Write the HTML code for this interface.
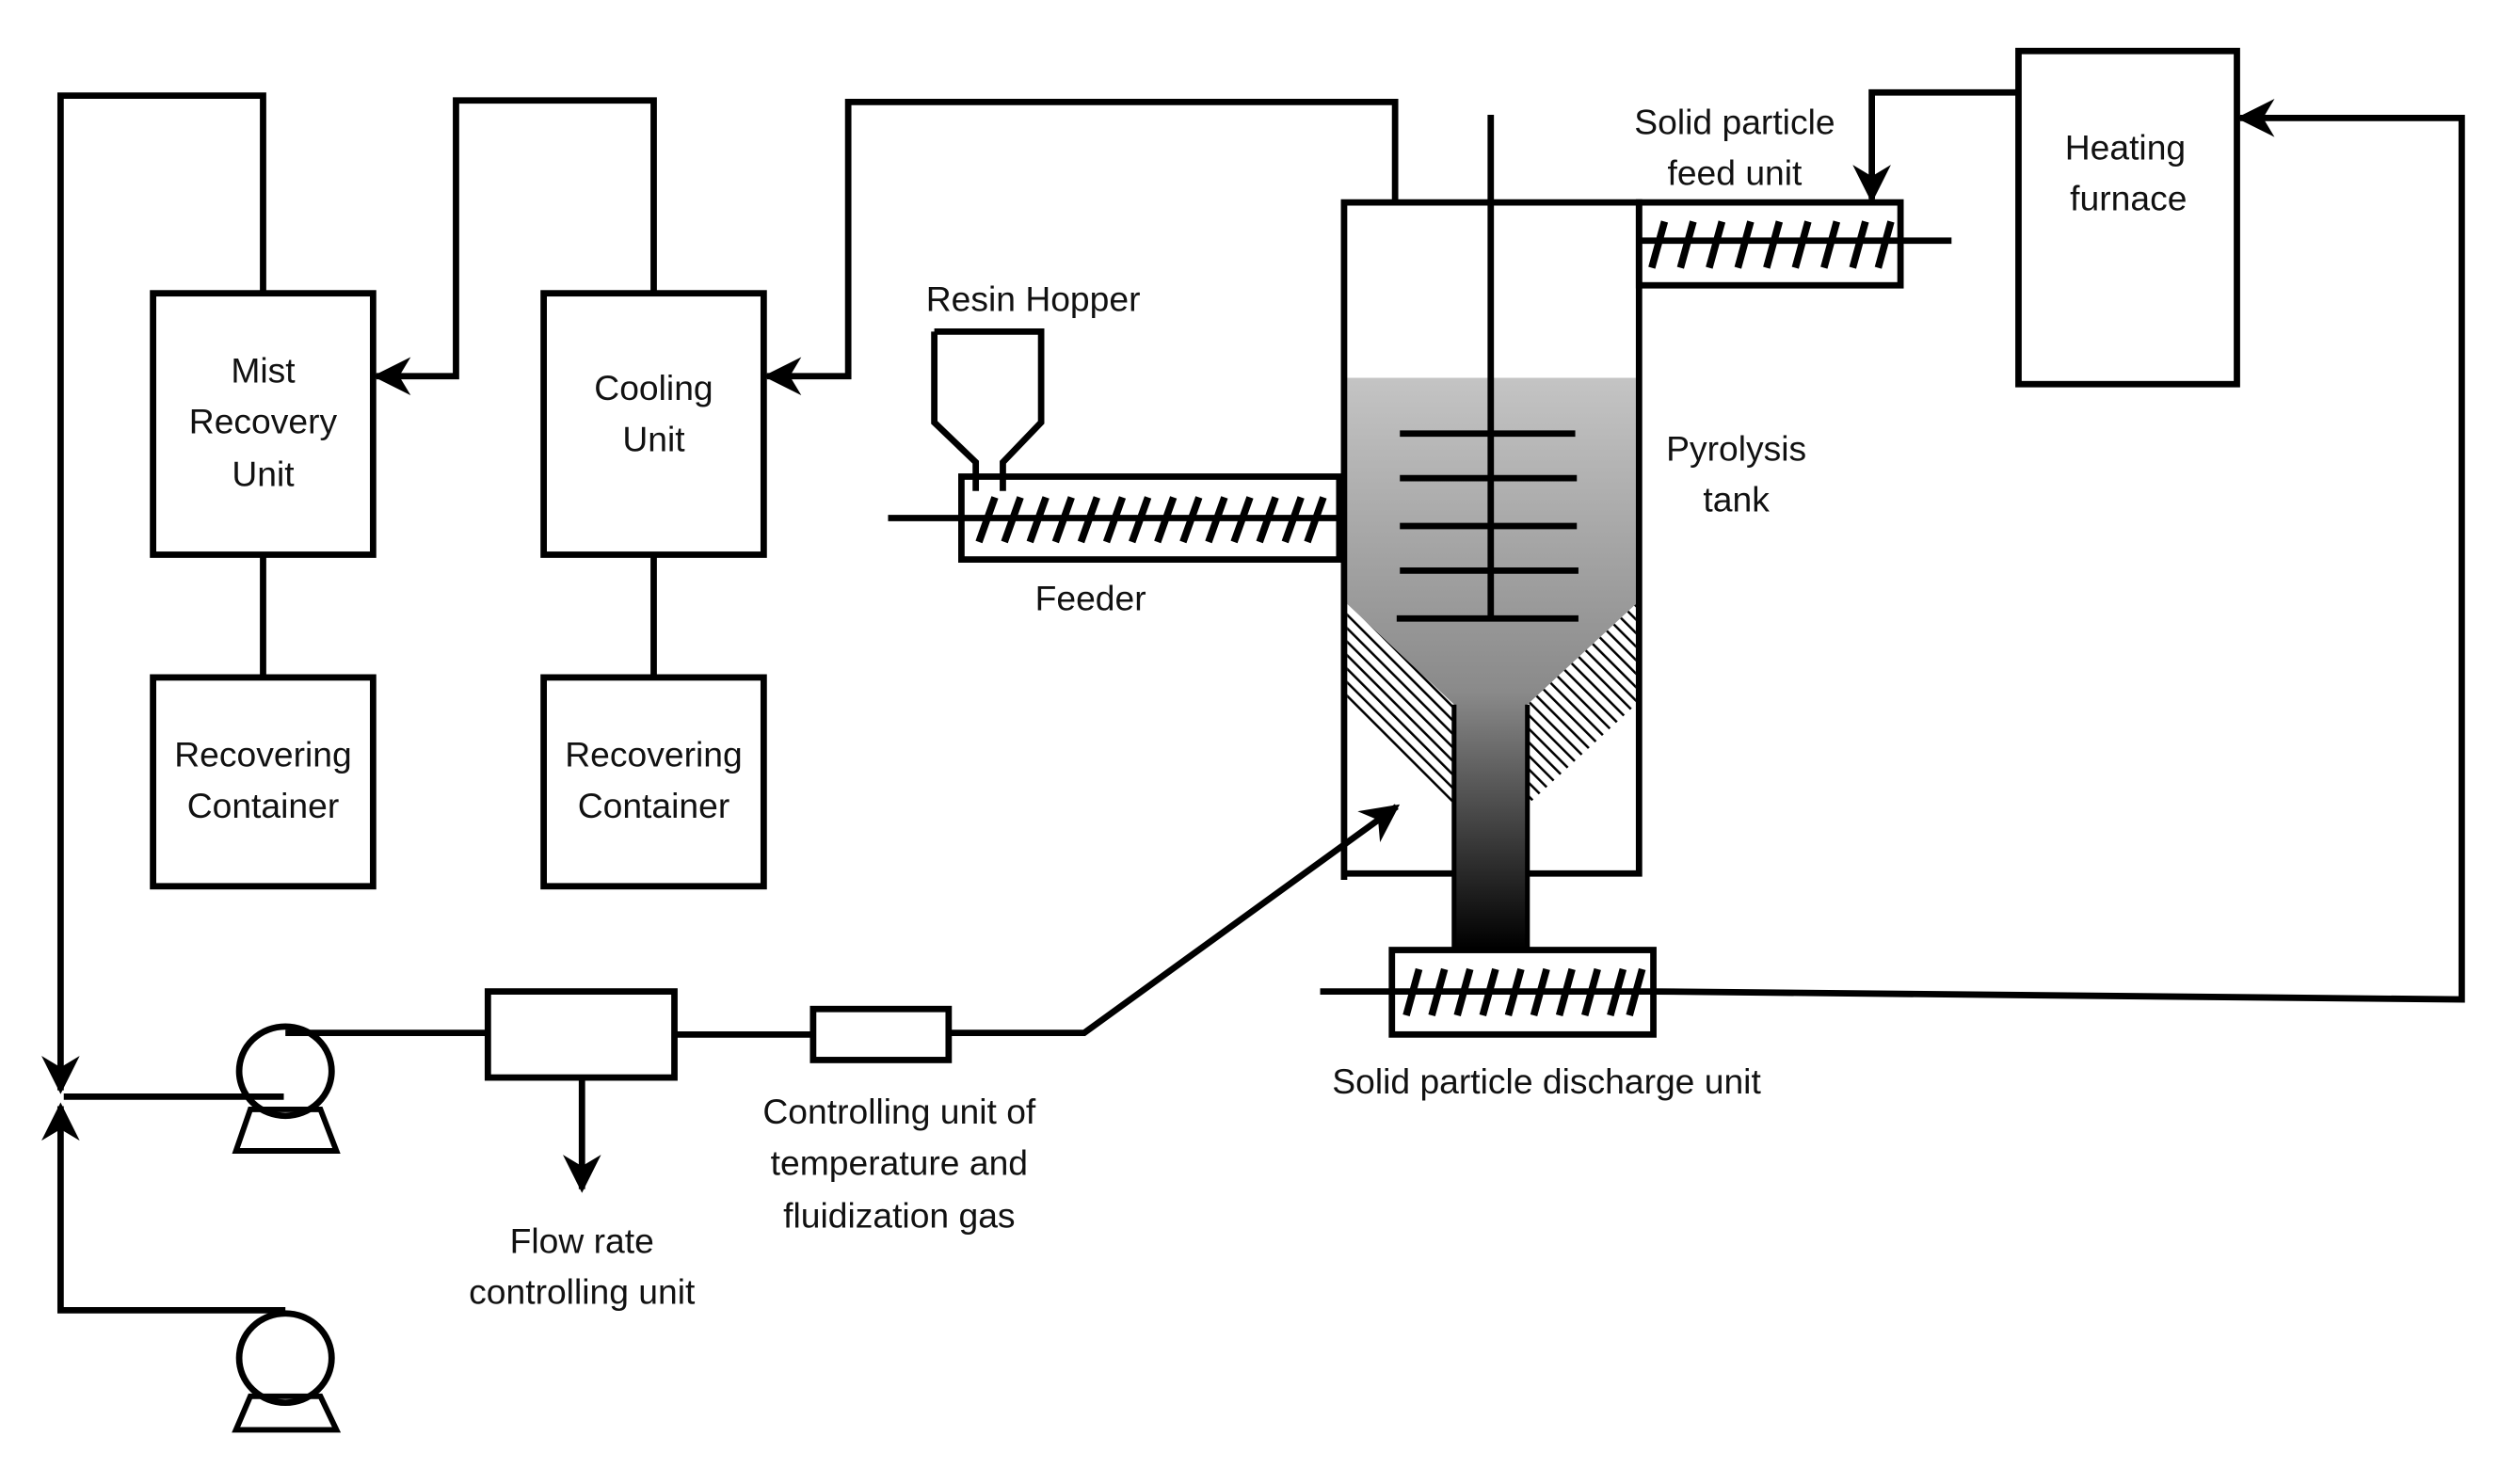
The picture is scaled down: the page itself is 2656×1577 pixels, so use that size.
<!DOCTYPE html>
<html><head><meta charset="utf-8"><style>html,body{margin:0;padding:0;background:#fff}svg{display:block}</style></head>
<body>
<svg width="2656" height="1577" viewBox="0 0 1568 931" xmlns="http://www.w3.org/2000/svg" font-family="Liberation Sans, sans-serif" font-size="22">
<defs>
<linearGradient id="g" x1="0" y1="237" x2="0" y2="595" gradientUnits="userSpaceOnUse">
<stop offset="0" stop-color="#c4c4c4"/><stop offset="0.55" stop-color="#8a8a8a"/><stop offset="1" stop-color="#000"/>
</linearGradient>
<pattern id="h" width="6" height="6" patternUnits="userSpaceOnUse" patternTransform="rotate(-45)">
<rect width="6" height="6" fill="#fff"/><line x1="0" y1="0" x2="0" y2="6" stroke="#000" stroke-width="3"/>
</pattern>
<marker id="a" viewBox="0 0 10 10" refX="9" refY="5" markerWidth="6" markerHeight="6" orient="auto" markerUnits="strokeWidth"><path d="M0,0 L10,5 L0,10 L3,5 z" fill="#000"/></marker>
</defs>
<g fill="none" stroke="#000" stroke-width="4">
<rect x="96" y="184" width="138" height="164"/>
<rect x="341" y="184" width="138" height="164"/>
<rect x="96" y="425" width="138" height="131"/>
<rect x="341" y="425" width="138" height="131"/>
<line x1="165" y1="348" x2="165" y2="425"/>
<line x1="410" y1="348" x2="410" y2="425"/>
<polyline points="165,184 165,60 38,60 38,684" marker-end="url(#a)"/>
<polyline points="410,184 410,63 286,63 286,236 236,236" marker-end="url(#a)"/>
<polyline points="875,127 875,64 532,64 532,236 481,236" marker-end="url(#a)"/>
<polygon points="845,237 1026,237 1026,379 958,442 958,595 912,595 912,442 845,379" fill="url(#g)" stroke="none"/>
<polygon points="845,379 912,442 912,505 845,442" fill="url(#h)" stroke="none"/>
<polygon points="1026,379 958,442 958,505 1026,442" fill="url(#h)" stroke="none"/>
<line x1="912" y1="442" x2="912" y2="595" stroke-width="3"/>
<line x1="958" y1="442" x2="958" y2="595" stroke-width="3"/>
<polyline points="843,552 843,127 1028,127 1028,548 958,548"/>
<line x1="843" y1="548" x2="912" y2="548"/>
<line x1="935" y1="72" x2="935" y2="388"/>
<line x1="878" y1="272" x2="988" y2="272"/>
<line x1="878" y1="300" x2="989" y2="300"/>
<line x1="878" y1="330" x2="989" y2="330"/>
<line x1="878" y1="358" x2="990" y2="358"/>
<line x1="876" y1="388" x2="990" y2="388"/>
<rect x="1028" y="127" width="164" height="52"/>
<line x1="1028" y1="151" x2="1224" y2="151"/>
<polyline points="1266,58 1174,58 1174,125" marker-end="url(#a)"/>
<rect x="1266" y="32" width="137" height="209"/>
<polyline points="1038,622 1544,627 1544,74 1405,74" marker-end="url(#a)"/>
<rect x="873" y="596" width="164" height="53"/>
<line x1="828" y1="622" x2="1037" y2="622"/>
<polyline points="586,208 653,208 653,265 629,290 629,308"/>
<polyline points="586,208 586,265 612,290 612,308"/>
<rect x="603" y="299" width="237" height="52"/>
<line x1="557" y1="325" x2="840" y2="325"/>
<ellipse cx="179" cy="672" rx="29" ry="28"/>
<polygon points="157,696 148,722 211,722 201,696" stroke-width="3.5"/>
<line x1="179" y1="648" x2="307" y2="648"/>
<line x1="40" y1="688" x2="178" y2="688"/>
<ellipse cx="179" cy="852" rx="29" ry="28"/>
<polygon points="157,876 148,897 211,897 201,876" stroke-width="3.5"/>
<polyline points="179,822 38,822 38,694" marker-end="url(#a)"/>
<rect x="306" y="622" width="117" height="54"/>
<line x1="365" y1="676" x2="365" y2="746" marker-end="url(#a)"/>
<line x1="423" y1="649" x2="510" y2="649"/>
<rect x="510" y="633" width="85" height="32"/>
<polyline points="595,648 680,648 876,506" marker-end="url(#a)"/>
</g>
<g stroke="#000" stroke-width="4.5">
<path d="M614,340 L624,312 M630,340 L640,312 M646,340 L656,312 M662,340 L672,312 M678,340 L688,312 M694,340 L704,312 M710,340 L720,312 M726,340 L736,312 M742,340 L752,312 M758,340 L768,312 M774,340 L784,312 M790,340 L800,312 M806,340 L816,312 M820,340 L830,312"/>
<path d="M1036,168 L1044,139 M1054,168 L1062,139 M1072,168 L1080,139 M1090,168 L1098,139 M1108,168 L1116,139 M1126,168 L1134,139 M1144,168 L1152,139 M1162,168 L1170,139 M1178,168 L1186,139"/>
<path d="M882,637 L890,608 M898,637 L906,608 M914,637 L922,608 M930,637 L938,608 M946,637 L954,608 M962,637 L970,608 M978,637 L986,608 M994,637 L1002,608 M1010,637 L1018,608 M1022,637 L1030,608"/>
</g>
<g text-anchor="middle" fill="#111">
<text x="165" y="240">Mist</text><text x="165" y="272">Recovery</text><text x="165" y="305">Unit</text>
<text x="410" y="251">Cooling</text><text x="410" y="283">Unit</text>
<text x="165" y="481">Recovering</text><text x="165" y="513">Container</text>
<text x="410" y="481">Recovering</text><text x="410" y="513">Container</text>
<text x="648" y="195">Resin Hopper</text>
<text x="684" y="383">Feeder</text>
<text x="1088" y="84">Solid particle</text><text x="1088" y="116">feed unit</text>
<text x="1333" y="100">Heating</text><text x="1335" y="132">furnace</text>
<text x="1089" y="289">Pyrolysis</text><text x="1089" y="321">tank</text>
<text x="970" y="686">Solid particle discharge unit</text>
<text x="564" y="705">Controlling unit of</text><text x="564" y="737">temperature and</text><text x="564" y="770">fluidization gas</text>
<text x="365" y="786">Flow rate</text><text x="365" y="818">controlling unit</text>
</g>
</svg>
</body></html>
